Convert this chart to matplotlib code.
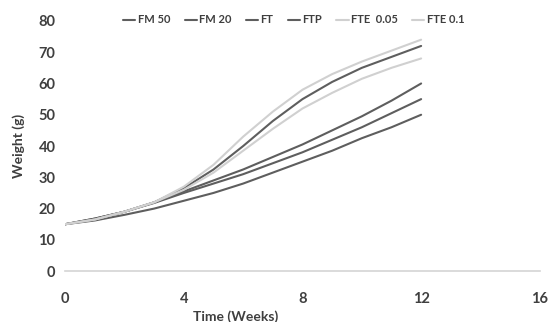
import matplotlib
matplotlib.use("Agg")
import matplotlib.pyplot as plt

weeks = [0, 1, 2, 3, 4, 5, 6, 7, 8, 9, 10, 11, 12]

fm50 = [15, 16.5, 19, 22, 26.5, 32.5, 40, 48, 55, 60.5, 65, 68.5, 72]
fm20 = [15, 16.8, 19, 22, 25.5, 29, 32.5, 36.5, 40.5, 45, 49.5, 54.5, 60]
ft = [15, 16.8, 19, 21.8, 25, 28, 31, 34.5, 38, 42, 46, 50.5, 55]
ftp = [15, 16.2, 18, 20, 22.5, 25, 28, 31.5, 35, 38.5, 42.5, 46, 50]
fte005 = [15, 16.5, 19, 22, 26, 31.5, 38.5, 45.5, 52, 57, 61.5, 65, 68]
fte01 = [15, 16.5, 19, 22, 27, 34, 43, 51, 58, 63, 67, 70.5, 74]

series = [
    ("FM 50", fm50, "#5e5e5e"),
    ("FM 20", fm20, "#5e5e5e"),
    ("FT", ft, "#5e5e5e"),
    ("FTP", ftp, "#5e5e5e"),
    ("FTE  0.05", fte005, "#d0d0d0"),
    ("FTE 0.1", fte01, "#d0d0d0"),
]

x_ticks = [0, 4, 8, 12, 16]
y_ticks = [0, 10, 20, 30, 40, 50, 60, 70, 80]

plt.rcParams["font.family"] = ["Lato", "DejaVu Sans"]

fig = plt.figure(figsize=(5.48, 3.22), dpi=100)
ax = fig.add_axes([0.119, 0.158, 0.866, 0.777])

for name, vals, col in series:
    ax.plot(weeks, vals, color=col, lw=1.5, label=name, solid_capstyle="round")

ax.set_xlim(0, 16)
ax.set_ylim(0, 80)
ax.set_xticks(x_ticks)
ax.set_yticks(y_ticks)

text_col = "#3f3f3f"
ax.tick_params(axis="both", length=0, labelsize=10.5, labelcolor=text_col)
ax.tick_params(axis="x", pad=15)
ax.tick_params(axis="y", pad=7)
for lbl in ax.get_xticklabels() + ax.get_yticklabels():
    lbl.set_fontweight("bold")

for side in ("top", "right", "left"):
    ax.spines[side].set_visible(False)
ax.spines["bottom"].set_color("#d4d4d4")
ax.spines["bottom"].set_linewidth(1.2)

ax.set_xlabel("Time (Weeks)", fontsize=10, fontweight="bold", color=text_col)
ax.xaxis.set_label_coords(0.36, -0.155)
ax.set_ylabel("Weight (g)", fontsize=10, fontweight="bold", color=text_col)
ax.yaxis.set_label_coords(-0.085, 0.5)

leg = ax.legend(loc="center", bbox_to_anchor=(0.536, 0.938), bbox_transform=fig.transFigure,
                ncol=6, frameon=False, handlelength=1.1, handletextpad=0.2,
                columnspacing=1.3, fontsize=8)
for t in leg.get_texts():
    t.set_color(text_col)
    t.set_fontweight("bold")

fig.savefig("out.png", dpi=100)
